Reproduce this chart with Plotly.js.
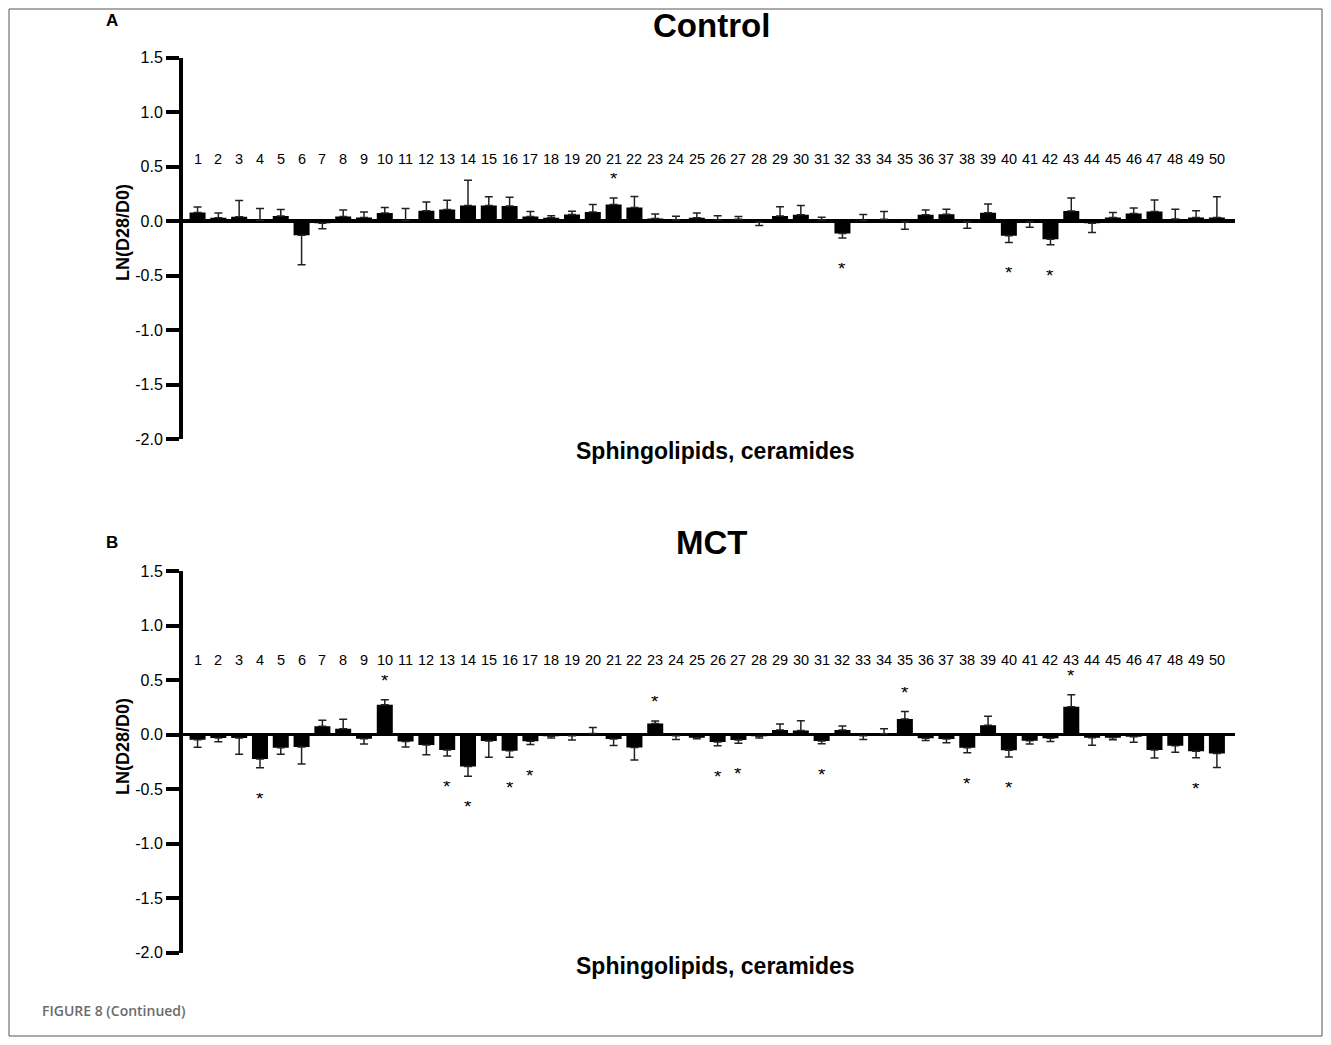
<!DOCTYPE html>
<html>
<head>
<meta charset="utf-8">
<script src="https://cdn.plot.ly/plotly-3.0.1.min.js"></script>
<style>
  html, body { margin: 0; padding: 0; background: #fff; }
  #chart { width: 1331px; height: 1045px; }
</style>
</head>
<body>
<div id="chart"></div>
<script>
// Sphingolipid / ceramide species, numbered 1..50
const species = Array.from({length: 50}, (_, i) => i + 1);
const speciesLabels = species.map(String);

// Control group: LN(D28/D0) mean and one-sided error
const ctrlMean = [0.08, 0.03, 0.04, 0.005, 0.046, -0.13, -0.02, 0.043, 0.034, 0.074,
                  0.005, 0.095, 0.107, 0.144, 0.144, 0.138, 0.043, 0.03, 0.061, 0.083,
                  0.153, 0.126, 0.025, 0.01, 0.03, 0.01, 0.018, -0.01, 0.046, 0.058,
                  0.01, -0.114, 0.005, 0.018, -0.005, 0.058, 0.064, -0.005, 0.077, -0.135,
                  -0.005, -0.166, 0.092, -0.02, 0.034, 0.071, 0.089, 0.02, 0.034, 0.034];
const ctrlErr  = [0.05, 0.045, 0.15, 0.11, 0.06, 0.27, 0.05, 0.06, 0.05, 0.05,
                  0.11, 0.08, 0.085, 0.23, 0.08, 0.08, 0.045, 0.02, 0.03, 0.07,
                  0.06, 0.1, 0.04, 0.035, 0.045, 0.04, 0.025, 0.03, 0.085, 0.085,
                  0.025, 0.04, 0.055, 0.07, 0.07, 0.045, 0.045, 0.06, 0.08, 0.06,
                  0.05, 0.05, 0.12, 0.085, 0.045, 0.05, 0.105, 0.09, 0.06, 0.19];
const ctrlSig  = [21, 32, 40, 42];

// MCT group
const mctMean = [-0.046, -0.03, -0.03, -0.224, -0.12, -0.114, 0.077, 0.055, -0.037, 0.273,
                 -0.064, -0.095, -0.141, -0.292, -0.058, -0.147, -0.061, -0.015, -0.01, 0.01,
                 -0.04, -0.117, 0.101, -0.01, -0.028, -0.068, -0.049, -0.015, 0.043, 0.037,
                 -0.058, 0.043, -0.01, 0.008, 0.144, -0.034, -0.04, -0.12, 0.086, -0.144,
                 -0.055, -0.034, 0.255, -0.028, -0.028, -0.02, -0.141, -0.101, -0.153, -0.172];
const mctErr  = [0.07, 0.035, 0.15, 0.08, 0.06, 0.155, 0.055, 0.085, 0.05, 0.046,
                 0.05, 0.09, 0.055, 0.09, 0.15, 0.06, 0.03, 0.015, 0.04, 0.055,
                 0.06, 0.115, 0.025, 0.035, 0.01, 0.035, 0.03, 0.015, 0.055, 0.09,
                 0.025, 0.037, 0.035, 0.045, 0.068, 0.02, 0.034, 0.046, 0.083, 0.06,
                 0.03, 0.03, 0.11, 0.07, 0.02, 0.05, 0.074, 0.06, 0.06, 0.13];
const mctSig  = [4, 10, 13, 14, 16, 17, 23, 26, 27, 31, 35, 38, 40, 43, 49];

const yTicks = [-2.0, -1.5, -1.0, -0.5, 0.0, 0.5, 1.0, 1.5];
const yTickText = yTicks.map(v => v.toFixed(1));

const W = 1331, H = 1045;
const FONT = 'Liberation Sans, Arial, Helvetica, sans-serif';
const px = x => x / W;
const py = y => 1 - y / H;

function barTrace(mean, err, xa, ya) {
  return {
    type: 'bar',
    x: species,
    y: mean,
    xaxis: xa,
    yaxis: ya,
    width: 0.77,
    marker: {color: '#000', line: {width: 0}},
    error_y: {
      type: 'data',
      symmetric: false,
      array: mean.map((v, i) => v >= 0 ? err[i] : 0),
      arrayminus: mean.map((v, i) => v < 0 ? err[i] : 0),
      width: 4,
      thickness: 1.5,
      color: '#222'
    },
    hoverinfo: 'x+y'
  };
}

function yAxis(domain) {
  return {
    domain: domain,
    range: [-2.0, 1.5],
    tickmode: 'array',
    tickvals: yTicks,
    ticktext: yTickText,
    tickfont: {family: FONT, size: 16, color: '#000'},
    ticks: 'outside',
    ticklen: 13,
    tickwidth: 4,
    tickcolor: '#000',
    showline: true,
    linewidth: 4,
    linecolor: '#000',
    showgrid: false,
    zeroline: true,
    zerolinewidth: 3.5,
    zerolinecolor: '#000',
    fixedrange: true
  };
}

function xAxis(anchor) {
  return {
    domain: [px(183), px(1235)],
    range: [0.3, 50.87],
    anchor: anchor,
    showticklabels: false,
    ticks: '',
    showline: false,
    showgrid: false,
    zeroline: false,
    fixedrange: true
  };
}

const annotations = [];

// species numbers and significance stars above/below the bars
function panelMarks(mean, err, sig, xref, yref, labelY) {
  species.forEach((s, i) => {
    annotations.push({
      xref: xref, yref: yref, x: s, y: labelY,
      height: 13,
      text: speciesLabels[i], showarrow: false,
      font: {family: FONT, size: 14.5, color: '#000'}
    });
  });
  sig.forEach(s => {
    const i = s - 1;
    const up = mean[i] >= 0;
    const end = up ? mean[i] + err[i] : mean[i] - err[i];
    annotations.push({
      xref: xref, yref: yref, x: s, y: end,
      yshift: up ? 19.5 : -30.5,
      height: 11,
      text: '*', showarrow: false,
      font: {family: FONT, size: 19, color: '#000'}
    });
  });
}
panelMarks(ctrlMean, ctrlErr, ctrlSig, 'x', 'y', 0.576);
panelMarks(mctMean, mctErr, mctSig, 'x2', 'y2', 0.685);

// panel titles, letters, axis titles
function paperText(text, x, y, size, opts) {
  annotations.push(Object.assign({
    xref: 'paper', yref: 'paper', x: px(x), y: py(y),
    xanchor: 'center', yanchor: 'middle',
    text: text, showarrow: false,
    font: {family: FONT, size: size, color: '#000', weight: 'bold'}
  }, opts || {}));
}
paperText('Control', 712, 25, 33);
paperText('MCT', 712, 542, 33);
paperText('A', 112, 21, 17);
paperText('B', 112, 542, 17);
paperText('Sphingolipids, ceramides', 715, 451, 23);
paperText('Sphingolipids, ceramides', 715, 966, 23);
paperText('LN(D28/D0)', 123, 233, 18, {textangle: -90});
paperText('LN(D28/D0)', 123, 747, 18, {textangle: -90});
annotations.push({
  xref: 'paper', yref: 'paper', x: px(40), y: py(1010),
  xanchor: 'left', yanchor: 'middle',
  text: 'FIGURE 8 (Continued)', showarrow: false,
  font: {family: 'Open Sans, sans-serif', size: 14, color: '#6b6b6b', weight: 600}
});

const layout = {
  width: W, height: H,
  margin: {l: 0, r: 0, t: 0, b: 0, pad: 0},
  paper_bgcolor: '#fff',
  plot_bgcolor: '#fff',
  showlegend: false,
  bargap: 0.2,
  xaxis: xAxis('y'),
  yaxis: yAxis([py(439.3), py(57.5)]),
  xaxis2: xAxis('y2'),
  yaxis2: yAxis([py(952.8), py(571)]),
  annotations: annotations,
  shapes: [{
    type: 'rect', xref: 'paper', yref: 'paper',
    x0: px(9), x1: px(1322), y0: py(1036), y1: py(9),
    line: {color: '#555', width: 1}, fillcolor: 'rgba(0,0,0,0)', layer: 'below'
  }]
};

Plotly.newPlot('chart', [
  barTrace(ctrlMean, ctrlErr, 'x', 'y'),
  barTrace(mctMean, mctErr, 'x2', 'y2')
], layout, {displayModeBar: false, staticPlot: true});
</script>
</body>
</html>
